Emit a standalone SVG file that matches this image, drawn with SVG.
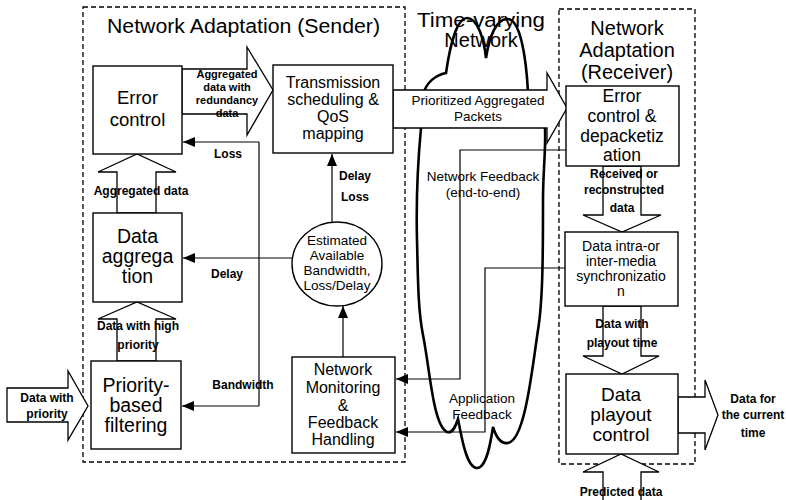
<svg xmlns="http://www.w3.org/2000/svg" width="786" height="500" viewBox="0 0 786 500">
<style>
.dash{fill:none;stroke:#000;stroke-width:1.3;stroke-dasharray:5 3}
.box{fill:#fff;stroke:#000;stroke-width:1.4}
.ha{fill:#fff;stroke:#000;stroke-width:1.3;stroke-linejoin:miter}
.ln{fill:none;stroke:#000;stroke-width:1.2}
.cloud{fill:none;stroke:#000;stroke-width:2.6;stroke-linecap:round}
text{font-family:"Liberation Sans",Arial,sans-serif;fill:#000;text-anchor:middle}
.t{font-size:20px}
.s{font-size:19.5px}
.b{font-weight:bold;font-size:12px}
.bs{font-weight:bold;font-size:11px}
.r{font-size:13.5px}
</style>
<defs>
<marker id="ah" markerUnits="userSpaceOnUse" markerWidth="12" markerHeight="10" viewBox="0 0 12 10" refX="12" refY="5" orient="auto">
<path d="M0,0 L12,5 L0,10 z" fill="#000"/>
</marker>
</defs>
<g id="sender-region">
<rect class="dash" x="83" y="7" width="322" height="455"/>
<text class="t" x="107" y="33" style="text-anchor:start" textLength="273" lengthAdjust="spacingAndGlyphs">Network Adaptation (Sender)</text>
</g>
<g id="receiver-region">
<rect class="dash" x="559" y="9" width="136" height="455"/>
<text class="t" x="627" y="35">Network</text>
<text class="t" x="627" y="57">Adaptation</text>
<text class="t" x="627" y="79">(Receiver)</text>
</g>
<g id="network-cloud">
<path class="cloud" d="M423,95 C426,82 436,75 446,73 C450,45 457,18 467,18 C478,18 484,40 486,58 C489,38 496,18 508,19 C520,20 526,55 528,92"/>
<path class="cloud" d="M421,128 C418,160 416,200 417,240 C418,280 418,310 423,335 C430,370 433,425 447,432 C453,434 456,425 458,419 C462,440 467,468 477,468 C487,468 491,440 493,427 C497,440 502,444 508,443 C525,440 532,370 538,330 C543,300 543,250 543,200 C543,170 546,150 545,128"/>
<text class="t" x="417" y="27" style="text-anchor:start" textLength="128" lengthAdjust="spacingAndGlyphs">Time-varying</text>
<text class="t" x="481" y="47">Network</text>
</g>
<g id="connectors">
<path class="ln" d="M259,142 V406"/>
<path class="ln" d="M259,142 H183" marker-end="url(#ah)"/>
<path class="ln" d="M292,258 H183" marker-end="url(#ah)"/>
<path class="ln" d="M259,406 H182" marker-end="url(#ah)"/>
<path class="ln" d="M332,222 V154" marker-end="url(#ah)"/>
<path class="ln" d="M343,357 V306" marker-end="url(#ah)"/>
<path class="ln" d="M566,150 H460 V379 H396" marker-end="url(#ah)"/>
<path class="ln" d="M565,268 H485 V432 H396" marker-end="url(#ah)"/>
<polygon class="ha" points="182,69 247,69 247,47 273,90 247,135 247,114 182,114"/>
<polygon class="ha" points="393,90 547,90 547,73 567,108 547,143 547,128 393,128"/>
<polygon class="ha" points="117,213 117,172 98,172 137,154 176,172 156,172 156,213"/>
<polygon class="ha" points="117,361 117,319 98,319 137,302 176,319 156,319 156,361"/>
<polygon class="ha" points="7,388 68,388 68,371 88,406 68,440 68,422 7,422"/>
<polygon class="ha" points="603,166 603,215 583,215 622,232 661,215 641,215 641,166"/>
<polygon class="ha" points="603,306 603,356 583,356 622,374 659,356 641,356 641,306"/>
<polygon class="ha" points="678,397 705,397 705,380 718,415 705,450 705,433 678,433"/>
<polygon class="ha" points="603,501 603,472 583,472 621,454 659,472 641,472 641,501"/>
<text class="bs" x="227" y="78">Aggregated</text>
<text class="bs" x="227" y="91">data with</text>
<text class="bs" x="227" y="104">redundancy</text>
<text class="bs" x="227" y="117">data</text>
<text class="b" x="228" y="158">Loss</text>
<text class="b" x="141" y="195">Aggregated data</text>
<text class="b" x="227" y="278">Delay</text>
<text class="b" x="138" y="330">Data with high</text>
<text class="b" x="138" y="349">priority</text>
<text class="b" x="355" y="180">Delay</text>
<text class="b" x="355" y="201">Loss</text>
<text class="b" x="243" y="389">Bandwidth</text>
<text class="b" x="47" y="402">Data with</text>
<text class="b" x="47" y="418">priority</text>
<text class="b" x="624" y="178">Received or</text>
<text class="b" x="624" y="194">reconstructed</text>
<text class="b" x="622" y="212">data</text>
<text class="b" x="622" y="328">Data with</text>
<text class="b" x="622" y="347">playout time</text>
<text class="b" x="753" y="403">Data for</text>
<text class="b" x="753" y="419">the current</text>
<text class="b" x="753" y="437">time</text>
<text class="b" x="621" y="496">Predicted data</text>
<text class="r" x="478" y="105">Prioritized Aggregated</text>
<text class="r" x="478" y="121">Packets</text>
<text class="r" x="483" y="181">Network Feedback</text>
<text class="r" x="483" y="197">(end-to-end)</text>
<text class="r" x="482" y="403">Application</text>
<text class="r" x="482" y="419">Feedback</text>
</g>
<g id="error-control-sender">
<rect class="box" x="93" y="66" width="89" height="88"/>
<text style="font-size:18.5px" x="137.5" y="104">Error</text>
<text style="font-size:18.5px" x="137.5" y="126">control</text>
</g>
<g id="data-aggregation">
<rect class="box" x="93" y="213" width="89" height="89"/>
<text class="s" x="137.5" y="243">Data</text>
<text class="s" x="137.5" y="263">aggrega</text>
<text class="s" x="137.5" y="283">tion</text>
</g>
<g id="priority-filtering">
<rect class="box" x="91" y="361" width="90" height="88"/>
<text class="s" x="136" y="392">Priority-</text>
<text class="s" x="136" y="412">based</text>
<text class="s" x="136" y="432">filtering</text>
</g>
<g id="transmission-scheduling">
<rect class="box" x="273" y="65" width="120" height="88"/>
<text style="font-size:16px" x="333" y="88">Transmission</text>
<text style="font-size:16px" x="333" y="105">scheduling &amp;</text>
<text style="font-size:16px" x="333" y="122">QoS</text>
<text style="font-size:16px" x="333" y="139">mapping</text>
</g>
<g id="estimated-bandwidth">
<ellipse class="box" cx="337" cy="264" rx="45" ry="42"/>
<text style="font-size:13.5px" x="337" y="245">Estimated</text>
<text style="font-size:13.5px" x="337" y="260">Available</text>
<text style="font-size:13.5px" x="337" y="275">Bandwidth,</text>
<text style="font-size:13.5px" x="337" y="290">Loss/Delay</text>
</g>
<g id="network-monitoring">
<rect class="box" x="292" y="357" width="103" height="96"/>
<text style="font-size:16px" x="343" y="375">Network</text>
<text style="font-size:16px" x="343" y="393">Monitoring</text>
<text style="font-size:16px" x="343" y="411">&amp;</text>
<text style="font-size:16px" x="343" y="428">Feedback</text>
<text style="font-size:16px" x="343" y="445">Handling</text>
</g>
<g id="error-control-receiver">
<rect class="box" x="566" y="86" width="113" height="80"/>
<text style="font-size:17.5px" x="622" y="102">Error</text>
<text style="font-size:17.5px" x="622" y="122">control &amp;</text>
<text style="font-size:17.5px" x="622" y="142">depacketiz</text>
<text style="font-size:17.5px" x="622" y="161">ation</text>
</g>
<g id="synchronization">
<rect class="box" x="565" y="232" width="113" height="74"/>
<text style="font-size:14px" x="621" y="251">Data intra-or</text>
<text style="font-size:14px" x="621" y="266">inter-media</text>
<text style="font-size:14px" x="621" y="281">synchronizatio</text>
<text style="font-size:14px" x="621" y="296">n</text>
</g>
<g id="playout-control">
<rect class="box" x="566" y="374" width="112" height="80"/>
<text style="font-size:19px" x="621" y="401">Data</text>
<text style="font-size:19px" x="621" y="421">playout</text>
<text style="font-size:19px" x="621" y="441">control</text>
</g>
</svg>
